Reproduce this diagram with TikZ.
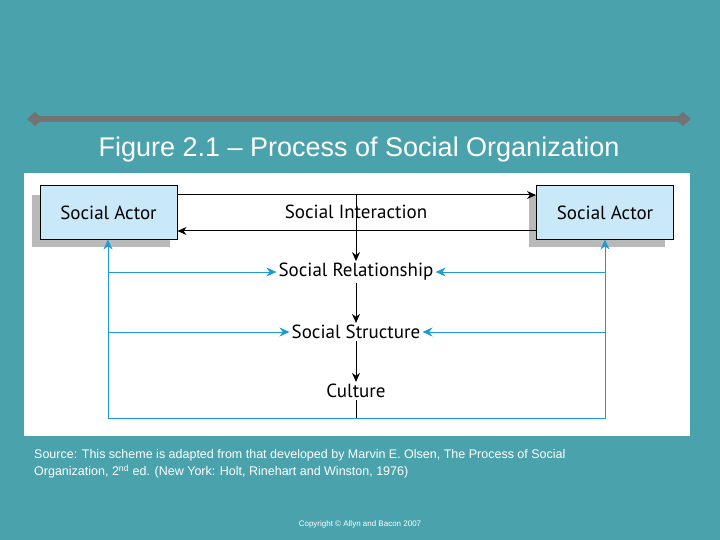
\documentclass[tikz,border=0pt]{standalone}
\usepackage{fontspec}
\setmainfont{Liberation Sans}
\newfontfamily\diag{PT Sans}
\usetikzlibrary{arrows.meta,calc}
\definecolor{teal0}{HTML}{4AA3AC}
\definecolor{boxblue}{HTML}{C9E8F8}
\definecolor{arrblue}{HTML}{1E9BD7}
\tikzset{
  actor/.style={draw=black,fill=boxblue,line width=1pt,minimum width=137pt,minimum height=53pt,font=\diag\fontsize{19}{22}\selectfont},
  shadowbox/.style={fill=gray!55,draw=none},
  lbl/.style={font=\diag\fontsize{19}{22}\selectfont,inner sep=2pt},
  blk/.style={line width=1pt,-{Stealth[length=9pt,width=8pt]}},
  blu/.style={arrblue,line width=1pt,-{Stealth[length=10pt,width=9pt]}},
  bluel/.style={arrblue,line width=1pt}
}
\begin{document}
\begin{tikzpicture}[x=1pt,y=-1pt]
\useasboundingbox (0,0) rectangle (720,540);
\fill[teal0] (0,0) rectangle (720,540);
% title bar
\draw[gray!90!black,line width=6pt] (36,119) -- (682,119);
\fill[gray!90!black] (27,119) -- (35,112) -- (43,119) -- (35,126) -- cycle;
\fill[gray!90!black] (675,119) -- (683,112) -- (691,119) -- (683,126) -- cycle;
\node[text=white,font=\fontsize{27}{32}\selectfont] (title) at (359,150) {Figure 2.1 – Process of Social Organization};
% panel
\fill[white] (24,173) rectangle (690,436);
\fill[shadowbox] (32,195) rectangle (170,247);
\fill[shadowbox] (529,195) rectangle (665,247);
\node[actor] (A) at (108.5,212.5) {Social Actor};
\node[actor] (B) at (605,212.5) {Social Actor};
\node[lbl] (SI) at (356,212) {Social Interaction};
\node[lbl] (SR) at (356,272) {Social Relationship};
\node[lbl] (SS) at (356,332) {Social Structure};
\node[lbl] (C) at (356,391) {Culture};
\coordinate (t1) at (356,195);
\coordinate (bl) at (108,418);
\coordinate (br) at (605,418);
\coordinate (bm) at (356,418);
\draw[blk] (A.east |- t1) -- (B.west |- t1);
\draw[blk] (B.west |- 0,231) -- (A.east |- 0,231);
\draw[blk] (t1) -- (SR.north);
\draw[blk] (SR.south) -- (SS.north);
\draw[blk] (SS.south) -- (C.north);
\draw[line width=1pt] (C.south) -- (bm);
\draw[bluel] ($(A.south -| bl)+(0,8)$) -- (bl) -- (br) -- ($(B.south)+(0,8)$);
\draw[blu] (bl) -- (A.south -| bl);
\draw[blu] (br) -- (B.south);
\draw[blu] (bl |- SR) -- (SR.west);
\draw[blu] (br |- SR) -- (SR.east);
\draw[blu] (bl |- SS) -- (SS.west);
\draw[blu] (br |- SS) -- (SS.east);
% source
\node[text=white,anchor=north west,align=left,font=\fontsize{12.5}{17.5}\selectfont,inner sep=0pt] (src) at (34,449) {Source: This scheme is adapted from that developed by Marvin E. Olsen, The Process of Social\\Organization, 2\textsuperscript{nd} ed. (New York: Holt, Rinehart and Winston, 1976)};
\node[text=white,font=\fontsize{8}{10}\selectfont] (copy) at (360,524) {Copyright © Allyn and Bacon 2007};
\end{tikzpicture}
\end{document}
